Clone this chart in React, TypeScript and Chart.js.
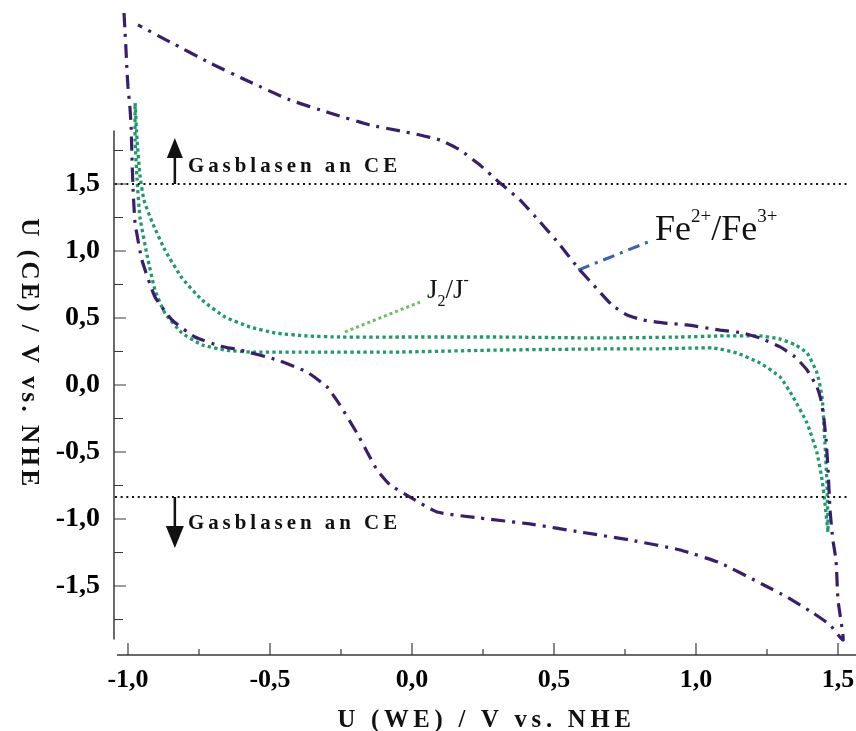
import { useEffect, useRef } from 'react';
import { Chart, registerables } from 'chart.js';

Chart.register(...registerables);

// ---------- data ----------
// Fe2+/Fe3+ cyclic curve (U(WE) vs U(CE))
const feX = [-1.014, -1.011, -1.007, -1.004, -1.0, -0.993, -0.989, -0.986, -0.982, -0.975, -0.951, -0.905, -0.845, -0.764, -0.676, -0.606, -0.475, -0.37, -0.299, -0.254, -0.194, -0.158, -0.123, -0.077, -0.007, 0.088, 0.239, 0.415, 0.592, 0.768, 0.944, 1.085, 1.232, 1.32, 1.412, 1.472, 1.518, 1.5, 1.493, 1.482, 1.472, 1.465, 1.458, 1.451, 1.44, 1.426, 1.391, 1.349, 1.296, 1.225, 1.165, 1.085, 0.968, 0.884, 0.813, 0.757, 0.704, 0.655, 0.585, 0.521, 0.451, 0.38, 0.31, 0.239, 0.169, 0.099, 0.028, -0.042, -0.148, -0.289, -0.43, -0.57, -0.711, -0.852, -0.965];
const feY = [2.776, 2.657, 2.5, 2.366, 2.224, 2.067, 1.925, 1.701, 1.455, 1.209, 0.933, 0.657, 0.485, 0.358, 0.291, 0.261, 0.187, 0.097, -0.015, -0.149, -0.358, -0.5, -0.634, -0.746, -0.836, -0.948, -0.993, -1.037, -1.097, -1.157, -1.231, -1.328, -1.485, -1.582, -1.701, -1.791, -1.903, -1.604, -1.306, -1.157, -0.933, -0.634, -0.41, -0.261, -0.112, -0.015, 0.112, 0.209, 0.284, 0.351, 0.388, 0.41, 0.448, 0.463, 0.485, 0.522, 0.597, 0.709, 0.873, 1.045, 1.216, 1.381, 1.507, 1.642, 1.754, 1.828, 1.866, 1.896, 1.94, 2.03, 2.127, 2.261, 2.403, 2.56, 2.687];

// J2/J- cyclic curve
const jX = [-0.975, -0.968, -0.958, -0.944, -0.915, -0.87, -0.81, -0.739, -0.658, -0.57, -0.482, -0.37, -0.254, -0.042, 0.31, 0.662, 0.944, 1.085, 1.225, 1.296, 1.349, 1.391, 1.426, 1.444, 1.454, 1.461, 1.465, 1.454, 1.444, 1.426, 1.391, 1.342, 1.296, 1.225, 1.144, 1.06, 0.838, 0.662, 0.31, -0.042, -0.394, -0.57, -0.658, -0.739, -0.81, -0.87, -0.905, -0.933, -0.958, -0.968, -0.975, -0.975];
const jY = [2.104, 1.828, 1.567, 1.381, 1.216, 1.007, 0.799, 0.634, 0.507, 0.433, 0.388, 0.366, 0.358, 0.358, 0.358, 0.351, 0.358, 0.366, 0.366, 0.343, 0.299, 0.239, 0.09, -0.09, -0.433, -0.731, -1.097, -0.881, -0.709, -0.507, -0.284, -0.09, 0.06, 0.164, 0.239, 0.276, 0.269, 0.269, 0.261, 0.246, 0.246, 0.246, 0.261, 0.299, 0.388, 0.537, 0.709, 0.97, 1.254, 1.53, 1.828, 2.104];

// gas evolution limits (dotted lines)
const gasLimitUpper = 1.5;
const gasLimitLower = -0.836;
const limitLineX = [-1.046, 1.535];

// leader lines of the labels
const feLeaderX = [0.585, 0.849];
const feLeaderY = [0.858, 1.082];
const jLeaderX = [-0.236, 0.028];
const jLeaderY = [0.396, 0.619];

// ticks
const xTickValues = [-1.0, -0.5, 0.0, 0.5, 1.0, 1.5];
const yTickValues = [-1.5, -1.0, -0.5, 0.0, 0.5, 1.0, 1.5];
const xMinorTicks = [-1.0, -0.75, -0.5, -0.25, 0, 0.25, 0.5, 0.75, 1.0, 1.25, 1.5];
const yMinorTicks = [-1.75, -1.5, -1.25, -1.0, -0.75, -0.5, -0.25, 0, 0.25, 0.5, 0.75, 1.0, 1.25, 1.5, 1.75];
const yAxisSpan = [-1.9, 1.9];
const xAxisStart = -1.039;

// texts
const xTitle = 'U (WE) / V vs. NHE';
const yTitle = 'U (CE) / V vs. NHE';
const gasText = 'Gasblasen an CE';
const gasTextX = -0.789;
const gasTextUpperY = 1.59;
const gasTextLowerY = -1.075;
const arrowX = -0.835;
const arrowUpTip = 1.843;
const arrowDownTip = -1.216;
const feLabelPos = [0.856, 1.082];
const jLabelPos = [0.053, 0.649];

const FONT = "'Liberation Serif', 'Times New Roman', serif";
const PURPLE = '#381f6d';
const GREEN = '#1f9b6b';

const fmt = (v: number) => v.toFixed(1).replace('.', ',');
const pts = (xs: number[], ys: number[]) => xs.map((x, i) => ({ x, y: ys[i] }));

type Part = { t: string; size: number; dy: number };

function drawRich(ctx: CanvasRenderingContext2D, parts: Part[], x: number, y: number, weight: string, sx: number) {
  ctx.save();
  ctx.translate(x, y);
  ctx.scale(sx, 1);
  ctx.textAlign = 'left';
  ctx.textBaseline = 'alphabetic';
  let cx = 0;
  for (const p of parts) {
    ctx.font = `${weight} ${p.size}px ${FONT}`;
    ctx.fillText(p.t, cx, p.dy);
    cx += ctx.measureText(p.t).width;
  }
  ctx.restore();
}

const decorations = {
  id: 'decorations',
  afterDraw(chart: any) {
    const { ctx, chartArea } = chart;
    const xs = chart.scales.x;
    const ys = chart.scales.y;
    ctx.save();
    // axes lines
    ctx.strokeStyle = '#3a3a3a';
    ctx.lineWidth = 1.5;
    const ax = chartArea.left + 1;
    ctx.beginPath();
    ctx.moveTo(ax, ys.getPixelForValue(yAxisSpan[1]));
    ctx.lineTo(ax, ys.getPixelForValue(yAxisSpan[0]));
    const ay = chartArea.bottom;
    ctx.moveTo(xs.getPixelForValue(xAxisStart), ay);
    ctx.lineTo(chartArea.right, ay);
    ctx.stroke();
    // ticks (inward)
    ctx.lineWidth = 1.2;
    ctx.beginPath();
    for (const v of yMinorTicks) {
      const major = Math.abs(v * 2 - Math.round(v * 2)) < 1e-6;
      const py = ys.getPixelForValue(v);
      ctx.moveTo(ax, py);
      ctx.lineTo(ax + (major ? 12 : 9), py);
    }
    for (const v of xMinorTicks) {
      const major = Math.abs(v * 2 - Math.round(v * 2)) < 1e-6;
      const px = xs.getPixelForValue(v);
      ctx.moveTo(px, ay);
      ctx.lineTo(px, ay - (major ? 12 : 6));
    }
    ctx.stroke();

    // arrows
    ctx.fillStyle = '#111';
    ctx.strokeStyle = '#111';
    ctx.lineWidth = 2.5;
    const axp = xs.getPixelForValue(arrowX);
    const upBase = ys.getPixelForValue(gasLimitUpper);
    const upTip = ys.getPixelForValue(arrowUpTip);
    ctx.beginPath();
    ctx.moveTo(axp, upBase);
    ctx.lineTo(axp, upTip + 16);
    ctx.stroke();
    ctx.beginPath();
    ctx.moveTo(axp, upTip);
    ctx.lineTo(axp - 8, upTip + 20);
    ctx.lineTo(axp + 8, upTip + 20);
    ctx.closePath();
    ctx.fill();
    const dnBase = ys.getPixelForValue(gasLimitLower);
    const dnTip = ys.getPixelForValue(arrowDownTip);
    ctx.beginPath();
    ctx.moveTo(axp, dnBase);
    ctx.lineTo(axp, dnTip - 16);
    ctx.stroke();
    ctx.beginPath();
    ctx.moveTo(axp, dnTip);
    ctx.lineTo(axp - 9, dnTip - 22);
    ctx.lineTo(axp + 9, dnTip - 22);
    ctx.closePath();
    ctx.fill();

    // gas texts
    ctx.fillStyle = '#111';
    ctx.save();
    (ctx as any).letterSpacing = '4.2px';
    drawRich(ctx, [{ t: gasText, size: 22, dy: 0 }], xs.getPixelForValue(gasTextX), ys.getPixelForValue(gasTextUpperY), 'bold', 0.95);
    drawRich(ctx, [{ t: gasText, size: 22, dy: 0 }], xs.getPixelForValue(gasTextX), ys.getPixelForValue(gasTextLowerY), 'bold', 0.95);
    ctx.restore();

    // curve labels
    drawRich(
      ctx,
      [
        { t: 'Fe', size: 36, dy: 0 },
        { t: '2+', size: 19, dy: -18 },
        { t: '/', size: 36, dy: 0 },
        { t: 'Fe', size: 36, dy: 0 },
        { t: '3+', size: 19, dy: -18 },
      ],
      xs.getPixelForValue(feLabelPos[0]),
      ys.getPixelForValue(feLabelPos[1]),
      'normal',
      1
    );
    drawRich(
      ctx,
      [
        { t: 'J', size: 27, dy: 0 },
        { t: '2', size: 16, dy: 8 },
        { t: '/', size: 27, dy: 0 },
        { t: 'J', size: 27, dy: 0 },
        { t: '-', size: 16, dy: -13 },
      ],
      xs.getPixelForValue(jLabelPos[0]),
      ys.getPixelForValue(jLabelPos[1]),
      'normal',
      1
    );

    // axis titles
    ctx.save();
    (ctx as any).letterSpacing = '5px';
    ctx.font = `bold 26px ${FONT}`;
    ctx.textAlign = 'center';
    ctx.textBaseline = 'alphabetic';
    ctx.translate((chartArea.left + chartArea.right) / 2 + 2, 727);
    ctx.scale(0.95, 1);
    ctx.fillText(xTitle, 0, 0);
    ctx.restore();

    ctx.save();
    (ctx as any).letterSpacing = '3.5px';
    ctx.font = `bold 25px ${FONT}`;
    ctx.textAlign = 'center';
    ctx.textBaseline = 'middle';
    ctx.translate(28, 354);
    ctx.rotate(Math.PI / 2);
    ctx.fillText(yTitle, 0, 0);
    ctx.restore();

    ctx.restore();
  },
};

export default function App() {
  const ref = useRef<HTMLCanvasElement | null>(null);
  useEffect(() => {
    if (!ref.current) return;
    const chart = new Chart(ref.current, {
      type: 'scatter',
      data: {
        datasets: [
          {
            label: 'limit upper',
            data: pts(limitLineX, [gasLimitUpper, gasLimitUpper]),
            showLine: true,
            borderColor: '#111',
            borderWidth: 2,
            borderDash: [2, 3.7],
            pointRadius: 0,
          },
          {
            label: 'limit lower',
            data: pts(limitLineX, [gasLimitLower, gasLimitLower]),
            showLine: true,
            borderColor: '#111',
            borderWidth: 2,
            borderDash: [2, 3.7],
            pointRadius: 0,
          },
          {
            label: 'Fe2+/Fe3+',
            data: pts(feX, feY),
            showLine: true,
            borderColor: PURPLE,
            borderWidth: 3.2,
            borderDash: [14, 7, 3, 7],
            pointRadius: 0,
            tension: 0.15,
          },
          {
            label: 'J2/J-',
            data: pts(jX, jY),
            showLine: true,
            borderColor: GREEN,
            borderWidth: 3.3,
            borderDash: [3.3, 3.2],
            pointRadius: 0,
            tension: 0.15,
          },
          {
            label: 'Fe leader',
            data: pts(feLeaderX, feLeaderY),
            showLine: true,
            borderColor: '#3d63ad',
            borderWidth: 3,
            borderDash: [12, 6, 3, 6],
            pointRadius: 0,
          },
          {
            label: 'J leader',
            data: pts(jLeaderX, jLeaderY),
            showLine: true,
            borderColor: '#6abf62',
            borderWidth: 3,
            borderDash: [3, 3],
            pointRadius: 0,
          },
        ],
      },
      options: {
        responsive: false,
        animation: false,
        devicePixelRatio: 1,
        layout: { padding: 0 },
        plugins: { legend: { display: false }, tooltip: { enabled: false } },
        scales: {
          x: {
            type: 'linear',
            min: -1.0528,
            max: 1.5634,
            afterBuildTicks: (s: any) => {
              s.ticks = xTickValues.map((v) => ({ value: v }));
            },
            afterFit: (s: any) => {
              s.height = 76;
              s.paddingLeft = 0;
              s.paddingRight = 0;
            },
            grid: { display: false, drawTicks: false },
            border: { display: false },
            ticks: {
              padding: 10,
              color: '#000',
              font: { family: FONT, size: 26, weight: 'bold' },
              callback: (v: any) => fmt(Number(v)),
            },
          },
          y: {
            type: 'linear',
            min: -2.0149,
            max: 2.873,
            afterBuildTicks: (s: any) => {
              s.ticks = yTickValues.map((v) => ({ value: v }));
            },
            afterFit: (s: any) => {
              s.width = 113;
              s.paddingTop = 0;
              s.paddingBottom = 0;
            },
            grid: { display: false, drawTicks: false },
            border: { display: false },
            ticks: {
              padding: 13,
              color: '#000',
              font: { family: FONT, size: 28, weight: 'bold' },
              callback: (v: any) => fmt(Number(v)),
            },
          },
        },
      },
      plugins: [decorations],
    });
    return () => chart.destroy();
  }, []);
  return (
    <div style={{ position: 'fixed', left: 0, top: 0, width: 856, height: 731, background: '#fff' }}>
      <canvas ref={ref} width={856} height={731} style={{ display: 'block' }} />
    </div>
  );
}
